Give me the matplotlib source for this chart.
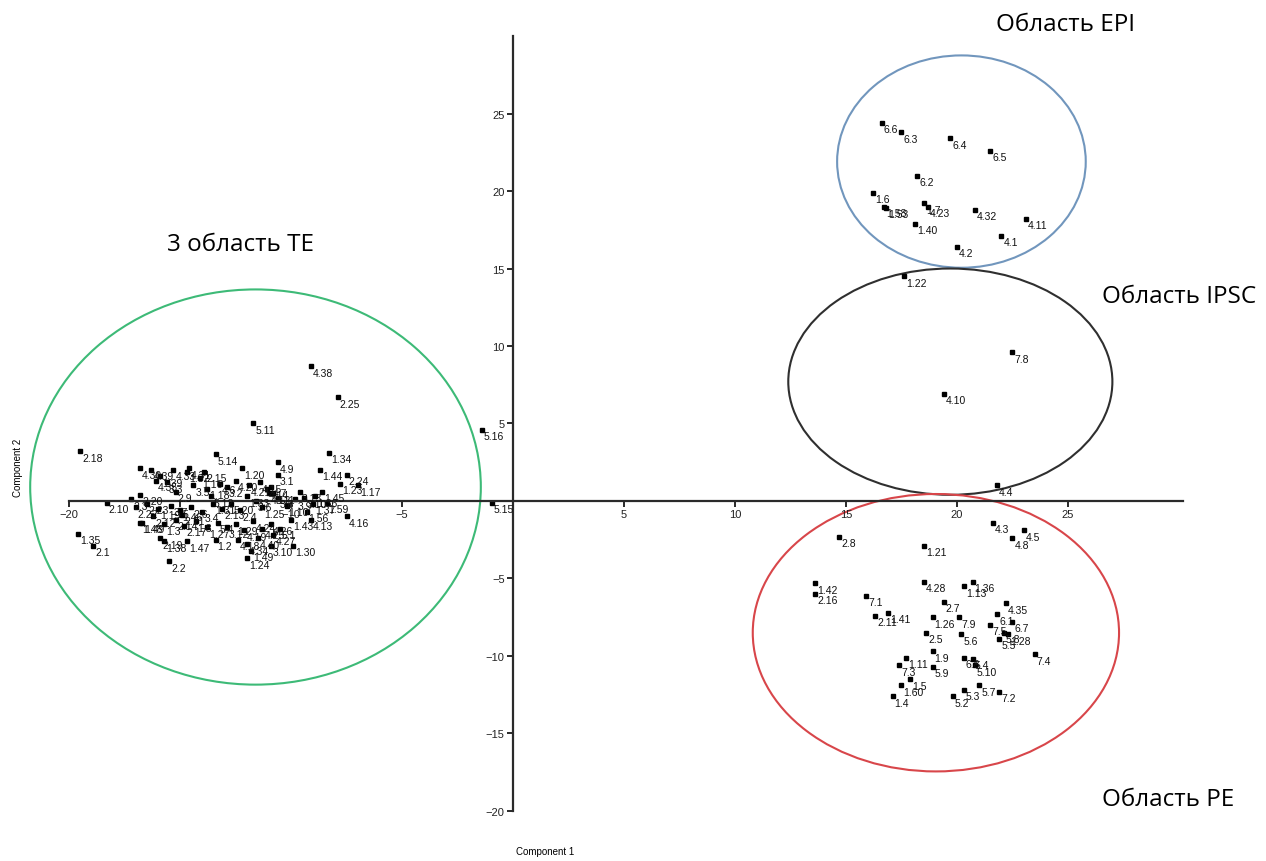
import matplotlib.pyplot as plt
from matplotlib.patches import Ellipse

# ---- data (Component 1, Component 2, sample id) ----
# 3 область TE
te_x = [-19.5, -19.6, -18.9, -18.3, -15.5, -13.4, -11.7, -9.1, -7.9, -8.3,
        -8.7, -7.5, -7.8, -7.0, -8.6, -7.5, -9.9, -10.9, -10.6, -10.6,
        -12.2, -12.0, -12.4, -13.4, -14.7, -15.7, -15.9, -16.8, -0.95, -1.4,
        -16.3, -15.9, -15.6, -14.7, -14.1, -14.4, -13.8, -15.2, -16.8, -17.2,
        -16.5, -17.0, -16.0, -15.4, -15.0, -14.5, -14.0, -13.5, -13.1, -12.7,
        -12.3, -12.0, -11.6, -11.3, -11.0, -10.6, -10.2, -9.8, -9.4, -9.0,
        -9.3, -9.1, -10.0, -10.5, -12.5, -12.9, -13.2, -11.9, -11.4, -10.9,
        -10.8, -16.8, -15.3, -14.6, -13.9, -16.7, -16.2, -15.7, -15.2, -14.8,
        -14.3, -13.8, -13.3, -12.9, -12.5, -12.1, -11.7, -11.3, -10.9, -10.8,
        -11.5, -12.0, -11.8, -8.9, -8.4, -9.6, -13.6, -14.9, -16.1, -11.1]
te_y = [3.2, -2.1, -2.9, -0.1, -3.9, 3.0, 5.0, 8.7, 6.7, 3.1,
        2.0, 1.7, 1.1, 1.0, 0.6, -1.0, -2.9, -2.9, 2.5, 1.7,
        2.1, -3.7, -2.5, -2.5, -2.6, -2.6, -2.4, -1.4, -0.1, 4.6,
        2.0, 1.6, 1.2, 1.9, 1.5, 1.0, 0.8, 0.6, 0.4, 0.1,
        -0.2, -0.4, -0.5, -0.3, -0.6, -0.4, -0.7, -0.2, -0.5, -0.2,
        -0.6, 0.3, 0.0, -0.4, 0.5, 0.2, -0.3, 0.1, 0.2, -0.2,
        -0.7, -1.2, -1.2, -1.8, 1.3, 0.9, 1.1, 1.0, 1.2, 0.9,
        0.5, 2.1, 2.0, 2.1, 1.9, -1.4, -1.0, -1.5, -1.2, -1.6,
        -1.3, -1.7, -1.4, -1.7, -1.5, -1.9, -1.3, -1.8, -1.5, -2.2,
        -2.4, -2.8, -3.2, 0.3, -0.1, 0.6, 0.3, -0.9, 1.3, 0.8]
te_lab = ['2.18', '1.35', '2.1', '2.10', '2.2', '5.14', '5.11', '4.38', '2.25', '1.34',
          '1.44', '2.24', '1.23', '1.17', '1.45', '4.16', '1.30', '3.10', '4.9', '3.1',
          '1.20', '1.24', '4.18', '1.2', '1.47', '1.38', '2.19', '1.48', '5.15', '5.16',
          '4.39', '1.39', '3.3', '1.32', '1.16', '3.5', '1.18', '2.9', '2.20', '2.3',
          '2.23', '2.22', '1.19', '3.7', '1.46', '2.6', '3.4', '1.31', '2.13', '5.20',
          '2.4', '1.33', '3.6', '1.25', '4.12', '3.8', '1.10', '3.9', '3.10', '1.37',
          '1.56', '4.13', '1.43', '5.1', '4.20', '3.2', '4.6', '4.21', '4.15', '4.7',
          '3.11', '4.30', '4.33', '4.31', '2.15', '1.49', '2.12', '1.3', '2.14', '2.17',
          '1.8', '1.27', '5.4', '3.12', '1.29', '4.19', '4.24', '4.25', '4.26', '4.27',
          '4.40', '4.34', '1.49', '1.36', '1.59', '3.13', '5.12', '2.21', '4.35', '4.14']

# Область EPI
epi_x = [16.6, 17.5, 19.7, 21.5, 18.2, 16.2, 16.7, 16.8, 18.5, 18.7, 18.1, 20.8, 23.1, 22.0, 20.0, 17.6]
epi_y = [24.4, 23.8, 23.4, 22.6, 21.0, 19.9, 19.0, 18.9, 19.2, 19.0, 17.9, 18.8, 18.2, 17.1, 16.4, 14.5]
epi_lab = ['6.6', '6.3', '6.4', '6.5', '6.2', '1.6', '1.58', '1.53', '1.7', '4.23',
           '1.40', '4.32', '4.11', '4.1', '4.2', '1.22']

# Область IPSC
ipsc_x = [22.5, 19.4, 21.8]
ipsc_y = [9.6, 6.9, 1.0]
ipsc_lab = ['7.8', '4.10', '4.4']

# Область PE
pe_x = [14.7, 18.5, 21.6, 22.5, 23.0, 13.6, 13.6, 15.9, 16.3, 16.9,
        18.5, 20.3, 20.7, 19.4, 18.9, 20.1, 18.6, 20.2, 22.2, 21.8,
        21.5, 22.5, 22.1, 21.9, 23.5, 18.9, 18.9, 20.3, 20.7, 20.8,
        17.4, 17.7, 17.9, 17.5, 17.1, 19.8, 20.3, 21.0, 21.9, 22.3]
pe_y = [-2.3, -2.9, -1.4, -2.4, -1.9, -5.3, -6.0, -6.1, -7.4, -7.2,
        -5.2, -5.5, -5.2, -6.5, -7.5, -7.5, -8.5, -8.6, -6.6, -7.3,
        -8.0, -7.8, -8.5, -8.9, -9.9, -9.7, -10.7, -10.1, -10.2, -10.6,
        -10.6, -10.1, -11.5, -11.9, -12.6, -12.6, -12.2, -11.9, -12.3, -8.6]
pe_lab = ['2.8', '1.21', '4.3', '4.8', '4.5', '1.42', '2.16', '7.1', '2.11', '1.41',
          '4.28', '1.13', '1.36', '2.7', '1.26', '7.9', '2.5', '5.6', '4.35', '6.1',
          '7.5', '6.7', '5.8', '5.5', '7.4', '1.9', '5.9', '6.8', '5.4', '5.10',
          '7.3', '1.11', '1.5', '1.60', '1.4', '5.2', '5.3', '5.7', '7.2', '1.28']

ticks = [-20, -15, -10, -5, 5, 10, 15, 20, 25]

small_font = ['Liberation Sans Narrow', 'Liberation Sans', 'DejaVu Sans']
big_font = ['Open Sans', 'DejaVu Sans']

fig = plt.figure(figsize=(12.66, 8.62), dpi=100)
ax = fig.add_axes([0, 0, 1, 1])
ax.set_xlim(-23.11, 33.92)
ax.set_ylim(-23.23, 32.39)

# axes crossing at the origin, SPSS style
for side in ['top', 'right']:
    ax.spines[side].set_visible(False)
ax.spines['left'].set_position(('data', 0))
ax.spines['bottom'].set_position(('data', 0))
ax.spines['left'].set_bounds(-20, 30)
ax.spines['bottom'].set_bounds(-20, 30.2)
for side in ['left', 'bottom']:
    ax.spines[side].set_linewidth(1.6)
    ax.spines[side].set_color('#2a2a2a')
ax.set_xticks(ticks)
ax.set_yticks(ticks)
ax.tick_params(length=4, width=1.4, color='#2a2a2a', labelsize=8, pad=2)
for lab in ax.get_xticklabels() + ax.get_yticklabels():
    lab.set_family(small_font)
    lab.set_color('#222222')

# points with their ids
groups = [(te_x, te_y, te_lab), (epi_x, epi_y, epi_lab),
          (ipsc_x, ipsc_y, ipsc_lab), (pe_x, pe_y, pe_lab)]
for xs, ys, labs in groups:
    ax.plot(xs, ys, 's', color='black', ms=2.2, clip_on=False)
    for x, y, t in zip(xs, ys, labs):
        ax.annotate(t, (x, y), xytext=(1.5, -1), textcoords='offset points',
                    ha='left', va='top', fontsize=7.5, family=small_font, color='#111111')

# region ellipses
ax.add_patch(Ellipse((-11.6, 0.9), 20.3, 25.5, fill=False, color='#3dba77', lw=1.5, clip_on=False))
ax.add_patch(Ellipse((20.2, 21.9), 11.2, 13.7, fill=False, color='#7196bd', lw=1.5))
ax.add_patch(Ellipse((19.7, 7.7), 14.6, 14.6, fill=False, color='#2f2f2f', lw=1.5))
ax.add_patch(Ellipse((19.05, -8.5), 16.5, 17.9, fill=False, color='#d8464a', lw=1.5))

fig.text(0.842, 0.971, 'Область EPI', ha='center', va='center', fontsize=17.5, family=big_font)
fig.text(0.931, 0.655, 'Область IPSC', ha='center', va='center', fontsize=17.5, family=big_font)
fig.text(0.190, 0.716, '3 область TE', ha='center', va='center', fontsize=17.5, family=big_font)
fig.text(0.923, 0.072, 'Область PE', ha='center', va='center', fontsize=17.5, family=big_font)

fig.text(545 / 1266, 1 - 857 / 862, 'Component 1', ha='center', va='bottom', fontsize=7, family=small_font)
fig.text(18 / 1266, 1 - 468 / 862, 'Component 2', ha='center', va='center', rotation=90,
         fontsize=7, family=small_font)

fig.savefig('out.png', dpi=100)
